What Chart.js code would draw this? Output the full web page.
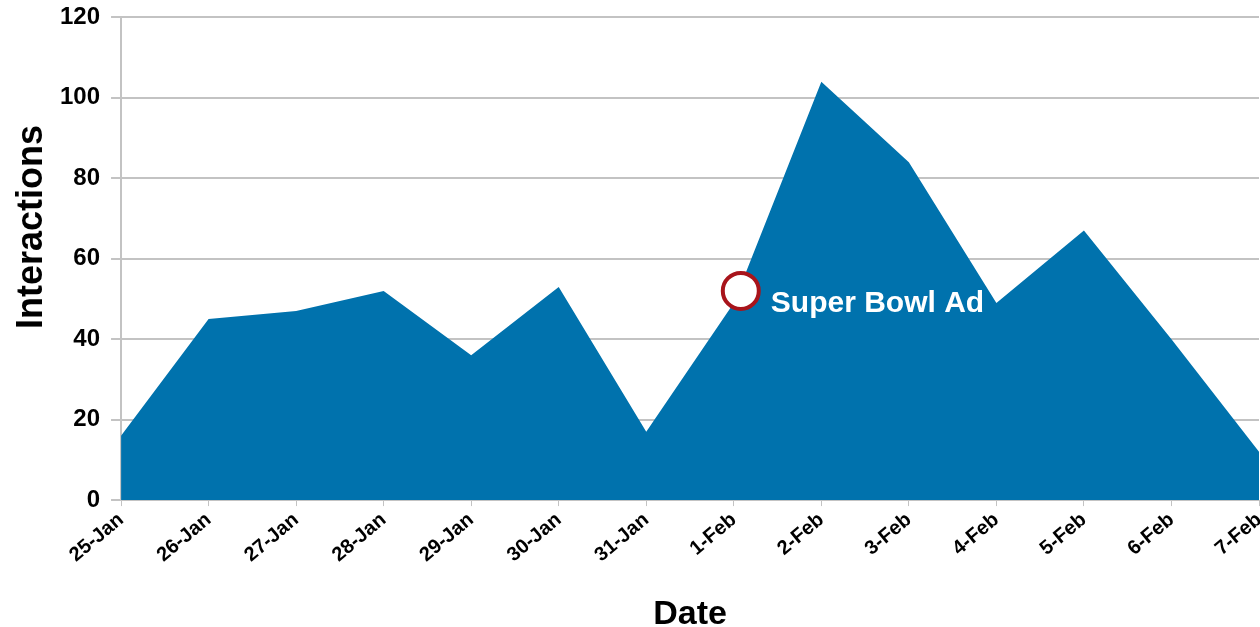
<!DOCTYPE html>
<html>
<head>
<meta charset="utf-8">
<script src="https://cdn.jsdelivr.net/npm/chart.js@4/dist/chart.umd.min.js"></script>
<style>
  html, body { margin: 0; padding: 0; background: #ffffff; overflow: hidden; }
  #wrap { width: 1281px; height: 635px; margin-top: -8px; }
</style>
</head>
<body>
<div id="wrap"><canvas id="myChart"></canvas></div>
<script>
// dados do gráfico
var datas = ['25-Jan', '26-Jan', '27-Jan', '28-Jan', '29-Jan', '30-Jan', '31-Jan',
             '1-Feb', '2-Feb', '3-Feb', '4-Feb', '5-Feb', '6-Feb', '7-Feb'];
var interacoes = [16, 45, 47, 52, 36, 53, 17, 49, 104, 84, 49, 67, 40, 12];
var yTicks = [0, 20, 40, 60, 80, 100, 120];
var tituloY = 'Interactions';
var tituloX = 'Date';

// marcador do anúncio (posição em dias a partir de 25-Jan)
var anuncioTexto = 'Super Bowl Ad';
var anuncioX = 7.08;
var anuncioY = 52;

var azul = '#0072AD';
var cinza = '#c3c3c3';
var fonte = '"Liberation Sans", Arial, sans-serif';

// texto do anúncio e título vertical desenhados à mão
var textosExtras = {
  id: 'textosExtras',
  afterDatasetsDraw(chart) {
    const ctx = chart.ctx;
    const x = chart.scales.x.getPixelForValue(anuncioX);
    const y = chart.scales.y.getPixelForValue(anuncioY);
    ctx.save();
    ctx.fillStyle = '#ffffff';
    ctx.font = 'bold 30px ' + fonte;
    ctx.textAlign = 'left';
    ctx.textBaseline = 'middle';
    ctx.fillText(anuncioTexto, x + 30, y + 13);
    ctx.restore();

    // titulo do eixo Y (canvas deslocado 8px para cima)
    ctx.save();
    ctx.translate(42, 235);
    ctx.rotate(-Math.PI / 2);
    ctx.fillStyle = '#000000';
    ctx.font = 'bold 36px ' + fonte;
    ctx.textAlign = 'center';
    ctx.textBaseline = 'alphabetic';
    ctx.fillText(tituloY, 0, 0);
    ctx.restore();
  }
};

var pontos = interacoes.map((v, i) => ({ x: i, y: v }));

var config = {
  type: 'line',
  data: {
    datasets: [
      {
        type: 'scatter',
        data: [{ x: anuncioX, y: anuncioY }],
        pointRadius: 18,
        pointBorderWidth: 4,
        pointBackgroundColor: '#ffffff',
        pointBorderColor: '#a8141b',
        order: 0
      },
      {
        label: tituloY,
        data: pontos,
        fill: 'origin',
        backgroundColor: azul,
        borderWidth: 0,
        pointRadius: 0,
        tension: 0,
        order: 1
      }
    ]
  },
  options: {
    responsive: true,
    maintainAspectRatio: false,
    animation: false,
    layout: { padding: { top: 0, right: 0, left: 49, bottom: 0 } },
    plugins: {
      legend: { display: false },
      tooltip: { enabled: false }
    },
    scales: {
      x: {
        type: 'linear',
        min: 0,
        max: datas.length - 1,
        grid: {
          drawOnChartArea: false,
          color: cinza,
          tickLength: 6
        },
        border: { color: cinza, width: 1 },
        ticks: {
          stepSize: 1,
          autoSkip: false,
          maxRotation: 40,
          minRotation: 40,
          color: '#000000',
          padding: 2,
          font: { family: fonte, size: 20, weight: 'bold' },
          callback: (v) => datas[v]
        },
        title: {
          display: true,
          text: tituloX,
          color: '#000000',
          padding: { top: 25, bottom: -8 },
          font: { family: fonte, size: 34, weight: 'bold' }
        }
      },
      y: {
        min: 0,
        max: 120,
        afterBuildTicks: (axis) => { axis.ticks = yTicks.map(v => ({ value: v })); },
        grid: {
          color: cinza,
          lineWidth: 2,
          tickLength: 10
        },
        border: { color: cinza, width: 2 },
        ticks: {
          color: '#000000',
          padding: 11,
          font: { family: fonte, size: 24, weight: 'bold' }
        }
      }
    }
  },
  plugins: [textosExtras]
};

var myChart = new Chart(document.getElementById('myChart').getContext('2d'), config);
</script>
</body>
</html>
